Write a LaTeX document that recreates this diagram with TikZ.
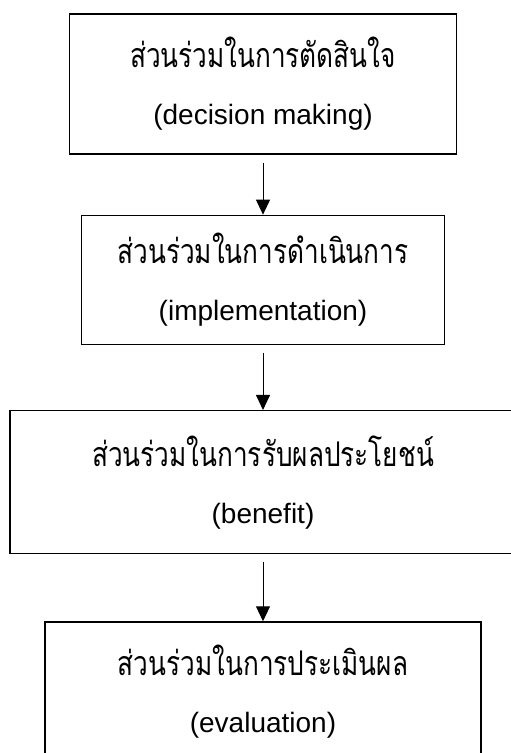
\documentclass[tikz,border=0pt]{standalone}
\usepackage{fontspec}
\setmainfont{Liberation Sans}
\newfontfamily\thaifont[Script=Thai,FakeStretch=0.77]{Loma}
\newcommand{\thline}[1]{{\thaifont\fontsize{34}{57}\selectfont #1}}
\usetikzlibrary{positioning,arrows.meta}

\begin{document}
\begin{tikzpicture}[auto, node distance=60pt,
        block/.style={draw, rectangle, line width=1.3pt, align=center, inner sep=0pt,
            font=\fontsize{28}{57}\selectfont},
        >={Triangle[width=14pt,length=15pt]}
    ]
        \useasboundingbox (0,0) rectangle (511pt,-753pt);
        \node [block, minimum width=387pt, minimum height=140pt] (dec) at (263pt,-84pt)
            {\thline{ส่วนร่วมในการตัดสินใจ}\\(decision making)};
        \node [block, minimum width=363pt, minimum height=129pt, below=60pt of dec] (impl)
            {\thline{ส่วนร่วมในการดำเนินการ}\\(implementation)};
        \node [block, minimum width=506pt, minimum height=143pt, below=65pt of impl] (ben)
            {\thline{ส่วนร่วมในการรับผลประโยชน์}\\(benefit)};
        \node [block, minimum width=436pt, minimum height=140pt, below=67pt of ben] (eval)
            {\thline{ส่วนร่วมในการประเมินผล}\\(evaluation)};

        \draw [->, line width=1pt, shorten <=8pt] (dec) -- (impl);
        \draw [->, line width=1pt, shorten <=8pt] (impl) -- (ben);
        \draw [->, line width=1pt, shorten <=8pt] (ben) -- (eval);
    \end{tikzpicture}
\end{document}
